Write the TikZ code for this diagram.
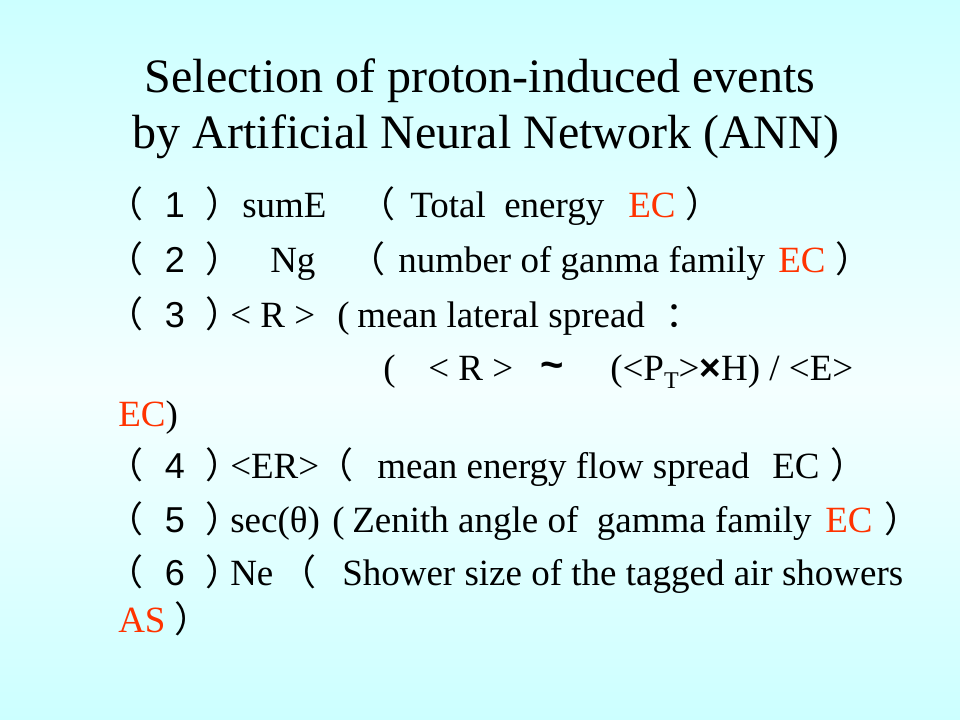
\documentclass[tikz,border=0pt]{standalone}
\usepackage{fontspec}
\setmainfont{Liberation Serif}
\newfontfamily\cjk{Noto Sans CJK SC}
\newfontfamily\arialfont{Liberation Sans}
\definecolor{slidecyan}{RGB}{204,255,255}
\definecolor{slidemid}{RGB}{244,255,255}
\definecolor{ecred}{RGB}{255,51,0}
\newcommand{\openfw}{\makebox[0.5em][r]{（}}
\newcommand{\closefw}{\makebox[0.5em][l]{）}}

\begin{document}
\begin{tikzpicture}[x=0.75pt,y=-0.75pt]
		\tikzstyle{slidetitle}=[anchor=base,inner sep=0pt,font=\fontsize{36}{43}\selectfont]
		\tikzstyle{bodytext}=[anchor=base west,inner sep=0pt,font=\fontsize{27.75}{32}\selectfont]
		\tikzstyle{cjkopen}=[anchor=base east,inner sep=0pt,font=\cjk\fontsize{27}{32}\selectfont]
		\tikzstyle{cjkclose}=[anchor=base west,inner sep=0pt,font=\cjk\fontsize{27}{32}\selectfont]
		\tikzstyle{digit}=[anchor=base,inner sep=0pt,font=\arialfont\fontsize{27}{32}\selectfont]
		\tikzstyle{redtext}=[bodytext,text=ecred]
		
		% background
		\useasboundingbox (0,0) rectangle (960,720);
		\shade[top color=slidecyan,bottom color=slidemid] (0,0) rectangle (960,390);
		\shade[top color=slidemid,bottom color=slidecyan] (0,390) rectangle (960,720);
		
		% title
		\node[slidetitle] (title1) at (480,93) {Selection of proton-induced events};
		\node[slidetitle] (title2) at (486,149) {by Artificial Neural Network (ANN)};
		
		% item numbers
		\foreach \k/\y in {1/218,2/273,3/327,4/478,5/532,6/585} {
			\node[cjkopen] (open\k) at (144,\y) {\openfw};
			\node[digit] (num\k) at (175,\y) {\k};
			\node[cjkclose] (close\k) at (205,\y) {\closefw};
		}
		
		% (1)
		\node[bodytext] (sume) at (242,218) {sumE};
		\node[cjkopen] (o1) at (396,218) {\openfw};
		\node[bodytext] (t1) at (410,218) {Total\ \ energy};
		\node[redtext] (ec1) at (628,218) {EC};
		\node[cjkclose] (c1) at (685,218) {\closefw};
		
		% (2)
		\node[bodytext] (ng) at (270,273) {Ng};
		\node[cjkopen] (o2) at (386,273) {\openfw};
		\node[bodytext] (t2) at (398,273) {number of ganma family};
		\node[redtext] (ec2) at (778,273) {EC};
		\node[cjkclose] (c2) at (835,273) {\closefw};
		
		% (3)
		\node[bodytext] (rr) at (230,327) {< R >};
		\node[bodytext] (o3) at (337,327) {(};
		\node[bodytext] (t3) at (357,327) {mean lateral spread};
		\node[cjkclose] (c3) at (665,327) {\makebox[0.5em][l]{：}};
		
		\node[bodytext] (o3b) at (383,380) {(};
		\node[bodytext] (rr2) at (428,380) {< R >};
		\node[anchor=base,inner sep=0pt,font=\arialfont\bfseries\fontsize{30}{32}\selectfont] (sim) at (552,378) {\~{}};
		\node[bodytext] (pt) at (610,380) {(<P\raisebox{-6pt}{\fontsize{18}{18}\selectfont T}>{\arialfont\bfseries ×}H) / <E>};
		\node[bodytext] (ec3) at (118,426) {\textcolor{ecred}{EC})};
		
		% (4)
		\node[bodytext] (er) at (230,478) {<ER>};
		\node[cjkopen] (o4) at (354,478) {\openfw};
		\node[bodytext] (t4) at (377,478) {mean energy flow spread};
		\node[bodytext] (ec4) at (772,478) {EC};
		\node[cjkclose] (c4) at (830,478) {\closefw};
		
		% (5)
		\node[bodytext] (sec) at (230,532) {sec(θ)};
		\node[bodytext] (o5) at (332,532) {(};
		\node[bodytext] (t5) at (352,532) {Zenith angle of\ \ gamma family};
		\node[redtext] (ec5) at (825,532) {EC};
		\node[cjkclose] (c5) at (884,532) {\closefw};
		
		% (6)
		\node[bodytext] (ne) at (230,585) {Ne};
		\node[cjkopen] (o6) at (317,585) {\openfw};
		\node[bodytext] (t6) at (342,585) {Shower size of the tagged air showers};
		\node[redtext] (as) at (118,632) {AS};
		\node[cjkclose] (c6) at (174,632) {\closefw};
\end{tikzpicture}
\end{document}
